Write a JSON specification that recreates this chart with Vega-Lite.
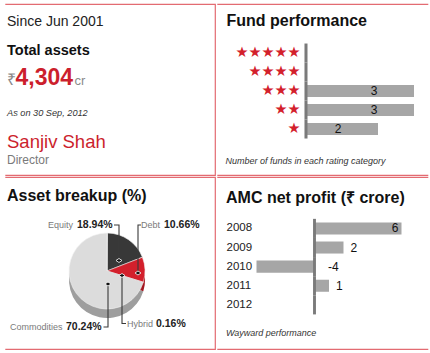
{
  "$schema": "https://vega.github.io/schema/vega-lite/v6.json",
  "padding": {"left": 4, "top": 3, "right": 5, "bottom": 7},
  "background": "white",
  "spacing": 0,
  "config": {
    "view": {"stroke": null},
    "concat": {"spacing": 0},
    "text": {"font": "Liberation Sans"},
    "axis": {"labelFont": "Liberation Sans"}
  },
  "datasets": {
    "overview": [
      {"line": "since", "text": "Since Jun 2001"},
      {"line": "total", "text": "Total assets"},
      {"line": "amount", "currency": "₹", "text": "4,304", "unit": "cr"},
      {"line": "asof", "text": "As on 30 Sep, 2012"},
      {"line": "name", "text": "Sanjiv Shah"},
      {"line": "role", "text": "Director"}
    ],
    "ratings": [
      {"row": "title", "text": "Fund performance"},
      {"row": "★★★★★", "funds": 0},
      {"row": "★★★★", "funds": 0},
      {"row": "★★★", "funds": 3},
      {"row": "★★", "funds": 3},
      {"row": "★", "funds": 2},
      {"row": "caption", "text": "Number of funds in each rating category"}
    ],
    "breakup": [
      {"row": "title", "text": "Asset breakup (%)"},
      {"row": "pie", "segment": "Equity", "share": 0.1894},
      {"row": "pie", "segment": "Debt", "share": 0.1066},
      {"row": "pie", "segment": "Hybrid", "share": 0.0016},
      {"row": "pie", "segment": "Commodities", "share": 0.7024}
    ],
    "profit": [
      {"row": "title", "text": "AMC net profit (₹ crore)"},
      {"row": "2008", "profit": 6},
      {"row": "2009", "profit": 2},
      {"row": "2010", "profit": -4},
      {"row": "2011", "profit": 1},
      {"row": "2012", "profit": null},
      {"row": "caption", "text": "Wayward performance"}
    ]
  },
  "vconcat": [
    {
      "spacing": 0,
      "hconcat": [
        {
          "width": 210,
          "height": 171,
          "view": {"stroke": "#e36b72", "strokeWidth": 1.2, "strokeDash": [591, 171]},
          "data": {"name": "overview"},
          "encoding": {
            "x": {"datum": 0, "type": "quantitative", "scale": {"domain": [0, 1]}, "axis": null},
            "y": {"field": "line", "type": "nominal", "scale": {"type": "point", "domain": ["since", "total", "amount", "asof", "name", "role"], "padding": 0.598, "align": 0.667}, "axis": null},
            "text": {"field": "text"}
          },
          "layer": [
            {"transform": [{"filter": "datum.line == 'since'"}], "mark": {"type": "text", "align": "left", "baseline": "alphabetic", "dx": 2, "dy": 0, "fontSize": 14, "color": "#222222"}},
            {"transform": [{"filter": "datum.line == 'total'"}], "mark": {"type": "text", "align": "left", "baseline": "alphabetic", "dx": 2, "dy": 1.4, "fontSize": 14.5, "fontWeight": "bold", "color": "#111111"}},
            {"transform": [{"filter": "datum.line == 'amount'"}], "mark": {"type": "text", "align": "left", "baseline": "alphabetic", "dx": 2, "dy": 3.8, "fontSize": 16, "color": "#8a8a8a"}, "encoding": {"text": {"field": "currency"}}},
            {"transform": [{"filter": "datum.line == 'amount'"}], "mark": {"type": "text", "align": "left", "baseline": "alphabetic", "dx": 10.5, "dy": 3.8, "fontSize": 23, "fontWeight": "bold", "color": "#cc1f2d"}},
            {"transform": [{"filter": "datum.line == 'amount'"}], "mark": {"type": "text", "align": "left", "baseline": "alphabetic", "dx": 69.5, "dy": 3.8, "fontSize": 13, "color": "#8a8a8a"}, "encoding": {"text": {"field": "unit"}}},
            {"transform": [{"filter": "datum.line == 'asof'"}], "mark": {"type": "text", "align": "left", "baseline": "alphabetic", "dx": 2, "dy": 7.2, "fontSize": 9.2, "fontStyle": "italic", "color": "#333333"}},
            {"transform": [{"filter": "datum.line == 'name'"}], "mark": {"type": "text", "align": "left", "baseline": "alphabetic", "dx": 2, "dy": 11.6, "fontSize": 18.5, "color": "#cc1f2d"}},
            {"transform": [{"filter": "datum.line == 'role'"}], "mark": {"type": "text", "align": "left", "baseline": "alphabetic", "dx": 2, "dy": 0, "fontSize": 12, "color": "#7a7a7a"}}
          ]
        },
        {
          "width": 211,
          "height": 171,
          "view": {"stroke": "#e36b72", "strokeWidth": 1.2, "strokeDash": [211, 171]},
          "data": {"name": "ratings"},
          "encoding": {
            "y": {
              "field": "row", "type": "nominal",
              "scale": {"type": "band", "domain": ["title", "★★★★★", "★★★★", "★★★", "★★", "★", "caption"], "paddingInner": 0, "paddingOuter": 1, "align": 0.54},
              "axis": {"values": ["★★★★★", "★★★★", "★★★", "★★", "★"], "orient": "left", "offset": -83, "labelAlign": "right", "labelBaseline": "middle", "labelPadding": 0, "ticks": false, "domain": false, "grid": false, "title": null, "labelColor": "#d3202c", "labelFont": "DejaVu Sans", "labelFontSize": 14.5, "labelLimit": 0}
            }
          },
          "layer": [
            {"transform": [{"filter": "isValid(datum.funds)"}], "mark": {"type": "bar", "color": "#a6a6a6", "height": {"band": 0.63}}, "encoding": {"x": {"field": "funds", "type": "quantitative", "scale": {"domain": [-2.472, 3.389], "nice": false, "zero": false}, "axis": null}}},
            {"transform": [{"filter": "isValid(datum.funds)"}], "mark": {"type": "bar", "color": "#7a7a7a"}, "encoding": {"x": {"datum": -0.042, "type": "quantitative"}, "x2": {"datum": 0.042}}},
            {"transform": [{"filter": "datum.funds > 0"}], "mark": {"type": "text", "align": "center", "baseline": "middle", "dx": -40, "fontSize": 12, "color": "#111111"}, "encoding": {"x": {"field": "funds", "type": "quantitative"}, "text": {"field": "funds", "type": "nominal"}}},
            {"transform": [{"filter": "datum.row == 'title'"}], "mark": {"type": "text", "align": "left", "baseline": "alphabetic", "dx": -79.5, "dy": -8, "fontSize": 16, "fontWeight": "bold", "color": "#111111"}, "encoding": {"x": {"datum": 0, "type": "quantitative"}, "text": {"field": "text"}}},
            {"transform": [{"filter": "datum.row == 'caption'"}], "mark": {"type": "text", "align": "left", "baseline": "alphabetic", "dx": -80.5, "dy": 16, "fontSize": 9, "fontStyle": "italic", "color": "#333333"}, "encoding": {"x": {"datum": 0, "type": "quantitative"}, "text": {"field": "text"}}}
          ]
        }
      ]
    },
    {
      "spacing": 0,
      "hconcat": [
        {
          "width": 210,
          "height": 172,
          "view": {"stroke": "#e36b72", "strokeWidth": 1.2, "strokeDash": [592, 172]},
          "data": {"name": "breakup"},
          "resolve": {"scale": {"color": "independent"}},
          "encoding": {
            "x": {"datum": "pie", "type": "nominal", "scale": {"type": "point", "domain": ["left", "pie"], "padding": 0.55, "align": 0.01818}, "axis": null},
            "y": {"field": "row", "type": "nominal", "scale": {"type": "point", "domain": ["title", "pie"], "padding": 0.7286, "align": 0.2353}, "axis": null}
          },
          "layer": [
            {"transform": [{"filter": "isValid(datum.share)"}], "mark": {"type": "arc", "outerRadius": 38, "yOffset": 9}, "encoding": {"theta": {"field": "share", "type": "quantitative", "stack": true}, "order": {"field": "segment", "type": "nominal", "sort": "descending"}, "color": {"field": "segment", "type": "nominal", "scale": {"domain": ["Equity", "Debt", "Hybrid", "Commodities"], "range": ["#1f1f1f", "#a3161f", "#8c8c8c", "#9e9e9e"]}, "legend": null}}},
            {"transform": [{"filter": "isValid(datum.share)"}], "mark": {"type": "arc", "outerRadius": 38, "stroke": "#f2f2f2", "strokeWidth": 0.6}, "encoding": {"theta": {"field": "share", "type": "quantitative", "stack": true}, "order": {"field": "segment", "type": "nominal", "sort": "descending"}, "color": {"field": "segment", "type": "nominal", "scale": {"domain": ["Equity", "Debt", "Hybrid", "Commodities"], "range": ["#383838", "#d3202c", "#4a4a4a", "#dcdcdc"]}, "legend": null}}},
            {"transform": [{"filter": "isValid(datum.share)"}, {"aggregate": [{"op": "count", "as": "n"}], "groupby": ["row"]}], "mark": {"type": "point", "shape": "M0.14,-0.92L0.24,-0.92L0.24,-0.21M0.68,-0.92L0.62,-0.92L0.62,0.04M-0.07,1.12L0.02,1.12L0.02,0.26M0.38,1.05L0.3,1.05L0.3,0.09", "size": 10000, "filled": false, "stroke": "#3a3a3a", "strokeWidth": 1.1, "opacity": 1}},
            {"transform": [{"filter": "isValid(datum.share)"}, {"aggregate": [{"op": "count", "as": "n"}], "groupby": ["row"]}], "mark": {"type": "point", "shape": "M0.18,-0.21L0.24,-0.25L0.30,-0.21L0.24,-0.17ZM0.56,0.04L0.62,0L0.68,0.04L0.62,0.08ZM-0.04,0.26L0.02,0.22L0.08,0.26L0.02,0.30ZM0.24,0.09L0.3,0.05L0.36,0.09L0.3,0.13Z", "size": 10000, "filled": true, "fill": "#111111", "stroke": "#ffffff", "strokeWidth": 0.8, "opacity": 1}},
            {"transform": [{"filter": "datum.segment == 'Equity'"}], "mark": {"type": "text", "align": "right", "baseline": "middle", "dx": -34, "dy": -46, "fontSize": 9, "color": "#7a7a7a"}, "encoding": {"text": {"field": "segment"}}},
            {"transform": [{"filter": "datum.segment == 'Equity'"}], "mark": {"type": "text", "align": "left", "baseline": "middle", "dx": -30, "dy": -46, "fontSize": 10.5, "fontWeight": "bold", "color": "#222222"}, "encoding": {"text": {"field": "share", "type": "quantitative", "format": ".2%"}}},
            {"transform": [{"filter": "datum.segment == 'Debt'"}], "mark": {"type": "text", "align": "right", "baseline": "middle", "dx": 53, "dy": -46, "fontSize": 9, "color": "#7a7a7a"}, "encoding": {"text": {"field": "segment"}}},
            {"transform": [{"filter": "datum.segment == 'Debt'"}], "mark": {"type": "text", "align": "left", "baseline": "middle", "dx": 57, "dy": -46, "fontSize": 10.5, "fontWeight": "bold", "color": "#222222"}, "encoding": {"text": {"field": "share", "type": "quantitative", "format": ".2%"}}},
            {"transform": [{"filter": "datum.segment == 'Commodities'"}], "mark": {"type": "text", "align": "right", "baseline": "middle", "dx": -44.5, "dy": 56.3, "fontSize": 9, "color": "#7a7a7a"}, "encoding": {"text": {"field": "segment"}}},
            {"transform": [{"filter": "datum.segment == 'Commodities'"}], "mark": {"type": "text", "align": "left", "baseline": "middle", "dx": -41, "dy": 56.3, "fontSize": 10.5, "fontWeight": "bold", "color": "#222222"}, "encoding": {"text": {"field": "share", "type": "quantitative", "format": ".2%"}}},
            {"transform": [{"filter": "datum.segment == 'Hybrid'"}], "mark": {"type": "text", "align": "right", "baseline": "middle", "dx": 46, "dy": 52.7, "fontSize": 9, "color": "#7a7a7a"}, "encoding": {"text": {"field": "segment"}}},
            {"transform": [{"filter": "datum.segment == 'Hybrid'"}], "mark": {"type": "text", "align": "left", "baseline": "middle", "dx": 49, "dy": 52.7, "fontSize": 10.5, "fontWeight": "bold", "color": "#222222"}, "encoding": {"text": {"field": "share", "type": "quantitative", "format": ".2%"}}},
            {"transform": [{"filter": "datum.row == 'title'"}], "mark": {"type": "text", "align": "left", "baseline": "alphabetic", "fontSize": 16, "fontWeight": "bold", "color": "#111111"}, "encoding": {"x": {"datum": "left", "type": "nominal"}, "text": {"field": "text"}}}
          ]
        },
        {
          "width": 211,
          "height": 172,
          "view": {"stroke": "#e36b72", "strokeWidth": 1.2, "strokeDash": [211, 172]},
          "data": {"name": "profit"},
          "encoding": {
            "y": {
              "field": "row", "type": "nominal",
              "scale": {"type": "band", "domain": ["title", "2008", "2009", "2010", "2011", "2012", "caption"], "paddingInner": 0, "paddingOuter": 1.026, "align": 0.595},
              "axis": {"values": ["2008", "2009", "2010", "2011", "2012"], "orient": "left", "offset": -9, "labelAlign": "left", "labelBaseline": "middle", "labelPadding": 0, "ticks": false, "domain": false, "grid": false, "title": null, "labelFont": "Liberation Sans", "labelFontSize": 11.5, "labelColor": "#222222"}
            }
          },
          "layer": [
            {"transform": [{"filter": "isValid(datum.profit)"}], "mark": {"type": "bar", "color": "#a6a6a6", "height": {"band": 0.63}}, "encoding": {"x": {"field": "profit", "type": "quantitative", "scale": {"domain": [-6.724, 7.828], "nice": false, "zero": false}, "axis": null}}},
            {"transform": [{"filter": "datum.row != 'title' && datum.row != 'caption'"}], "mark": {"type": "bar", "color": "#7a7a7a"}, "encoding": {"x": {"datum": -0.1, "type": "quantitative"}, "x2": {"datum": 0.1}}},
            {"transform": [{"filter": "datum.profit >= 5"}], "mark": {"type": "text", "align": "right", "baseline": "middle", "dx": -3, "fontSize": 12, "color": "#111111"}, "encoding": {"x": {"field": "profit", "type": "quantitative"}, "text": {"field": "profit", "type": "nominal"}}},
            {"transform": [{"filter": "datum.profit > 0 && datum.profit < 5"}], "mark": {"type": "text", "align": "left", "baseline": "middle", "dx": 7, "fontSize": 12, "color": "#111111"}, "encoding": {"x": {"field": "profit", "type": "quantitative"}, "text": {"field": "profit", "type": "nominal"}}},
            {"transform": [{"filter": "datum.profit < 0"}], "mark": {"type": "text", "align": "left", "baseline": "middle", "dx": 13.5, "fontSize": 12, "color": "#111111"}, "encoding": {"x": {"datum": 0, "type": "quantitative"}, "text": {"field": "profit", "type": "nominal"}}},
            {"transform": [{"filter": "datum.row == 'title'"}], "mark": {"type": "text", "align": "left", "baseline": "alphabetic", "dx": -88.5, "dy": -6.7, "fontSize": 16, "fontWeight": "bold", "color": "#111111"}, "encoding": {"x": {"datum": 0, "type": "quantitative"}, "text": {"field": "text"}}},
            {"transform": [{"filter": "datum.row == 'caption'"}], "mark": {"type": "text", "align": "left", "baseline": "alphabetic", "dx": -88.5, "dy": 12.3, "fontSize": 9, "fontStyle": "italic", "color": "#333333"}, "encoding": {"x": {"datum": 0, "type": "quantitative"}, "text": {"field": "text"}}}
          ]
        }
      ]
    }
  ]
}
